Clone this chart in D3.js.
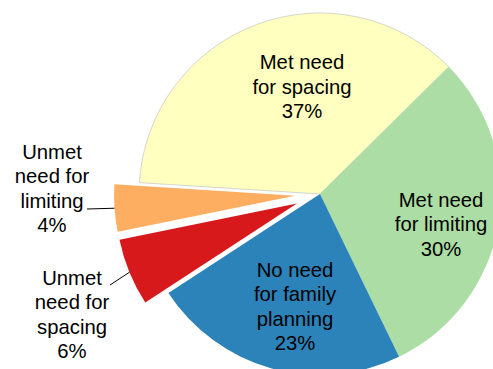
<!DOCTYPE html>
<html>
<head>
<meta charset="utf-8">
<script src="https://cdn.jsdelivr.net/npm/d3@7"></script>
<style>
  body { margin: 0; background: #fff; }
  svg { display: block; }
  text { font-family: "Liberation Sans", Arial, sans-serif; font-size: 20.3px; fill: #000; }
</style>
</head>
<body>
<div class="chart"></div>
<script>
// data
var categories = ["Met need\nfor spacing", "Met need\nfor limiting", "No need\nfor family\nplanning",
                  "Unmet\nneed for\nspacing", "Unmet\nneed for\nlimiting"];
var values = [36.6, 30.2, 23.0, 6.0, 4.2];
var colors = ["#ffffbf", "#abdda4", "#2b83ba", "#d7191c", "#fdae61"];
var exploded = [false, false, false, true, true];

// layout (label block centre relative to pie centre, leader line end)
var labelPos = [[-18, -107.5], [121, 30], [-25, 112.5], [-248, 120.5], [-268, -5.5]];
var leaderEnd = [null, null, null, [-210, 91], [-233, 15]];

var width = 493, height = 369,
    cx = 320, cy = 194,
    radius = 181, explode = 25, lineH = 24.5;

var startA = -86.4 * Math.PI / 180;

var pie = d3.pie()
    .sort(null)
    .startAngle(startA)
    .endAngle(startA + 2 * Math.PI)
    .value(function (d) { return d; });

var arc = d3.arc().innerRadius(0).outerRadius(radius);

var svg = d3.select(".chart")
    .append("svg")
    .attr("width", width)
    .attr("height", height);

var g = svg.append("g")
    .attr("transform", "translate(" + cx + "," + cy + ")");

var arcs = pie(values);

function offset(d, i) {
    if (!exploded[i]) return [0, 0];
    var a = (d.startAngle + d.endAngle) / 2;
    return [Math.sin(a) * explode, -Math.cos(a) * explode];
}

// slices
var slice = g.selectAll(".slice")
    .data(arcs)
    .enter().append("g")
    .attr("class", "slice")
    .attr("transform", function (d, i) {
        var o = offset(d, i);
        return "translate(" + o[0] + "," + o[1] + ")";
    });

slice.append("path")
    .attr("d", arc)
    .style("fill", function (d, i) { return colors[i]; })
    // the pale slice has a thin grey outline
    .style("stroke", function (d, i) { return i === 0 ? "#c4c4c4" : "none"; })
    .style("stroke-width", 0.7);

// leader lines
arcs.forEach(function (d, i) {
    if (!leaderEnd[i]) return;
    var o = offset(d, i);
    var a = (d.startAngle + d.endAngle) / 2;
    g.append("line")
        .attr("x1", o[0] + Math.sin(a) * radius)
        .attr("y1", o[1] - Math.cos(a) * radius)
        .attr("x2", leaderEnd[i][0])
        .attr("y2", leaderEnd[i][1])
        .style("stroke", "#000")
        .style("stroke-width", 1);
});

// labels
arcs.forEach(function (d, i) {
    var lines = categories[i].split("\n");
    lines.push(Math.round(values[i]) + "%");
    var n = lines.length;
    var t = g.append("text")
        .attr("text-anchor", "middle");
    lines.forEach(function (s, k) {
        t.append("tspan")
            .attr("x", labelPos[i][0])
            .attr("y", labelPos[i][1] + (k - (n - 1) / 2) * lineH + 7.2)
            .text(s);
    });
});
</script>
</body>
</html>
